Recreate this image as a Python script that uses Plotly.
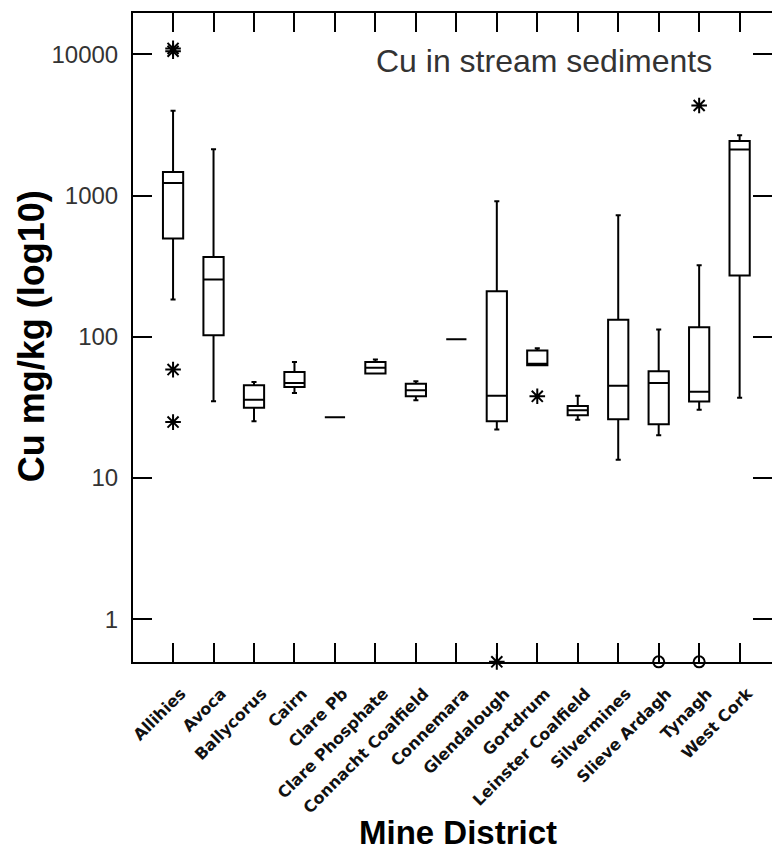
import plotly.graph_objects as go

districts = ["Allihies", "Avoca", "Ballycorus", "Cairn", "Clare Pb", "Clare Phosphate",
             "Connacht Coalfield", "Connemara", "Glendalough", "Gortdrum",
             "Leinster Coalfield", "Silvermines", "Slieve Ardagh", "Tynagh", "West Cork"]

lower_whisker = [184, 35, 25.2, 40, 27, 55, 35.5, 96, 22.1, 63, 25.9, 13.5, 20.1, 30.5, 37]
q1_vals       = [496, 102.5, 31.5, 44.1, 27, 55, 37.9, 96, 25.2, 63, 27.8, 26.1, 24, 34.9, 272]
medians       = [1228, 254, 35.9, 47.1, 27, 60.5, 41.8, 96, 38.3, 64.5, 30.2, 45.1, 47.1, 40.9, 2115]
q3_vals       = [1468, 367, 45.4, 56.4, 27, 66.3, 46.6, 96, 210, 80, 32.4, 132, 57, 117, 2431]
upper_whisker = [3975, 2125, 47.9, 66.3, 27, 69, 48.4, 96, 910, 83, 38.3, 724, 112.5, 321, 2670]

star_district = ["Allihies", "Allihies", "Allihies", "Allihies", "Glendalough", "Gortdrum", "Tynagh"]
star_value    = [10500, 11000, 58.6, 24.9, 0.5, 37.9, 4335]
circle_district = ["Slieve Ardagh", "Tynagh"]
circle_value    = [0.5, 0.5]

y_tick_values = [1, 10, 100, 1000, 10000]
y_tick_labels = ["1", "10", "100", "1000", "10000"]

Y_RANGE = [-0.302, 4.292]

fig = go.Figure()
fig.add_trace(go.Box(
    x=districts, q1=q1_vals, median=medians, q3=q3_vals,
    lowerfence=lower_whisker, upperfence=upper_whisker,
    boxpoints=False, width=0.5, whiskerwidth=0.25,
    fillcolor="white", line=dict(color="black", width=2),
    showlegend=False, hoverinfo="skip"))
fig.add_trace(go.Scatter(
    x=star_district, y=star_value, mode="markers", cliponaxis=False,
    marker=dict(symbol="asterisk-open", size=13, color="black",
                line=dict(color="black", width=2)),
    showlegend=False))
fig.add_trace(go.Scatter(
    x=circle_district, y=circle_value, mode="markers", cliponaxis=False,
    marker=dict(symbol="circle-open", size=11, color="black",
                line=dict(color="black", width=2)),
    showlegend=False))
# invisible helper so the right-hand tick axis is drawn
fig.add_trace(go.Scatter(
    x=[districts[0]], y=[1], yaxis="y2", mode="markers",
    marker=dict(opacity=0), showlegend=False, hoverinfo="skip"))

fig.update_layout(
    width=772, height=850,
    margin=dict(l=133, r=0, t=13, b=188),
    paper_bgcolor="white", plot_bgcolor="white",
    xaxis=dict(type="category", range=[-0.99, 14.8], showline=True, linecolor="black",
               linewidth=2, mirror="ticks", ticks="inside", ticklen=19, tickwidth=2,
               tickcolor="black", tickangle=-45, showgrid=False, zeroline=False,
               tickfont=dict(family="DejaVu Sans", size=16, color="#111", weight="bold"),
               ticklabelstandoff=14, ticklabelshift=8),
    yaxis=dict(type="log", range=Y_RANGE, showline=True, linecolor="black",
               linewidth=2, mirror=False, ticks="inside", ticklen=19, tickwidth=2,
               tickcolor="black", tickvals=y_tick_values, ticktext=y_tick_labels,
               showgrid=False, zeroline=False,
               tickfont=dict(family="Liberation Sans", size=24, color="#333"),
               ticklabelstandoff=8),
    yaxis2=dict(type="log", range=Y_RANGE, overlaying="y", side="right",
                showline=False, ticks="inside", ticklen=19, tickwidth=2,
                tickcolor="black", tickvals=y_tick_values, showticklabels=False,
                showgrid=False, zeroline=False),
    annotations=[
        dict(text="Cu in stream sediments", xref="paper", yref="paper", x=0.91, y=0.9256,
             xanchor="right", yanchor="middle", showarrow=False,
             font=dict(family="Liberation Sans", size=32, color="#333")),
        dict(text="Cu mg/kg (log10)", xref="paper", yref="paper", x=-0.159, y=0.5026,
             xanchor="center", yanchor="middle", textangle=-90, showarrow=False,
             font=dict(family="Liberation Sans", size=36, color="black", weight="bold")),
        dict(text="Mine District", xref="paper", yref="paper", x=0.509, y=-0.262,
             xanchor="center", yanchor="middle", showarrow=False,
             font=dict(family="Liberation Sans", size=33, color="black", weight="bold")),
    ],
)

fig.write_html("out.html")
